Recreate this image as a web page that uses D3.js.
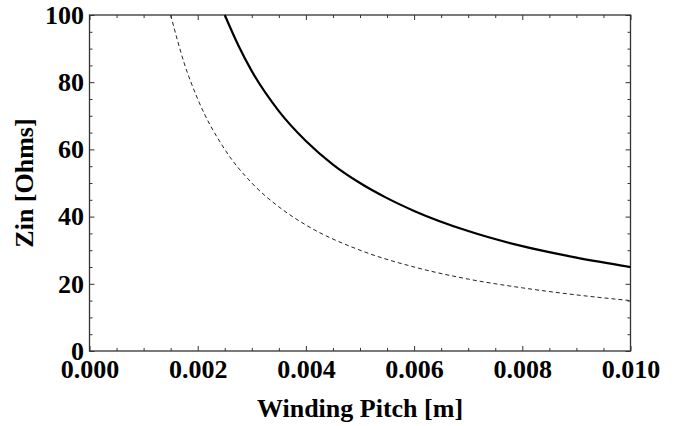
<!DOCTYPE html>
<html>
<head>
<meta charset="utf-8">
<script src="https://cdn.jsdelivr.net/npm/d3@7"></script>
<style>
  html, body { margin: 0; padding: 0; background: #fff; }
  text { font-family: "Liberation Serif", "Times New Roman", serif; font-weight: bold; }
</style>
</head>
<body>
<div id="chart"></div>
<script>
// Zin vs winding pitch, two curves
const pitchSolid = [0.0025, 0.00275, 0.003, 0.0035, 0.004, 0.0045, 0.005, 0.0055, 0.006, 0.007, 0.008, 0.009, 0.010];
const zinSolid   = [100, 91, 83.3, 71.4, 62.5, 55.5, 50, 45.5, 41.7, 35.7, 31.2, 27.8, 25];
const pitchDash  = [0.0015, 0.00175, 0.002, 0.0025, 0.003, 0.0035, 0.004, 0.005, 0.006, 0.007, 0.008, 0.009, 0.010];
const zinDash    = [100, 85.7, 75, 60, 50, 42.9, 37.5, 30, 25, 21.4, 18.8, 16.7, 15];

const xMajor = [0, 0.002, 0.004, 0.006, 0.008, 0.010];
const yMajor = [0, 20, 40, 60, 80, 100];

const width = 689, height = 426;
const margin = { top: 15, right: 58.5, bottom: 75, left: 89.5 };
const iw = width - margin.left - margin.right;
const ih = height - margin.top - margin.bottom;

const svg = d3.select('#chart').append('svg')
  .attr('width', width).attr('height', height);
const g = svg.append('g').attr('transform', `translate(${margin.left},${margin.top})`);

const x = d3.scaleLinear().domain([0, 0.010]).range([0, iw]);
const y = d3.scaleLinear().domain([0, 100]).range([ih, 0]);

const xMinor = d3.range(0, 0.0101, 0.0005).filter(v => !xMajor.some(m => Math.abs(m - v) < 1e-9));
const yMinor = d3.range(0, 101, 5).filter(v => v % 20 !== 0);

function styleAxis(sel) {
  sel.select('.domain').remove();
  sel.selectAll('line').attr('stroke', '#333').attr('stroke-width', 1);
  sel.selectAll('text').style('font-size', '26px').attr('fill', '#000');
}

// bottom
g.append('g').attr('transform', `translate(0,${ih})`)
  .call(d3.axisBottom(x).tickValues(xMajor).tickSize(-5).tickPadding(8.5).tickFormat(d3.format('.3f')))
  .call(styleAxis);
g.append('g').attr('transform', `translate(0,${ih})`)
  .call(d3.axisBottom(x).tickValues(xMinor).tickSize(-3).tickFormat(''))
  .call(styleAxis);
// top
g.append('g')
  .call(d3.axisTop(x).tickValues(xMajor).tickSize(-5).tickFormat(''))
  .call(styleAxis);
g.append('g')
  .call(d3.axisTop(x).tickValues(xMinor).tickSize(-3).tickFormat(''))
  .call(styleAxis);
// left
g.append('g')
  .call(d3.axisLeft(y).tickValues(yMajor).tickSize(-5).tickPadding(5.5).tickFormat(d3.format('d')))
  .call(styleAxis);
g.append('g')
  .call(d3.axisLeft(y).tickValues(yMinor).tickSize(-3).tickFormat(''))
  .call(styleAxis);
// right
g.append('g').attr('transform', `translate(${iw},0)`)
  .call(d3.axisRight(y).tickValues(yMajor).tickSize(-5).tickFormat(''))
  .call(styleAxis);
g.append('g').attr('transform', `translate(${iw},0)`)
  .call(d3.axisRight(y).tickValues(yMinor).tickSize(-3).tickFormat(''))
  .call(styleAxis);

// frame
g.append('rect')
  .attr('width', iw).attr('height', ih)
  .attr('fill', 'none').attr('stroke', '#333').attr('stroke-width', 1.3);

const line = d3.line()
  .x(d => x(d[0]))
  .y(d => y(d[1]))
  .curve(d3.curveMonotoneX);

g.append('path')
  .datum(d3.zip(pitchDash, zinDash))
  .attr('d', line)
  .attr('fill', 'none')
  .attr('stroke', '#222')
  .attr('stroke-width', 1)
  .attr('stroke-dasharray', '4,3');

g.append('path')
  .datum(d3.zip(pitchSolid, zinSolid))
  .attr('d', line)
  .attr('fill', 'none')
  .attr('stroke', '#000')
  .attr('stroke-width', 2.2);

// axis titles
svg.append('text')
  .attr('x', margin.left + iw / 2)
  .attr('y', 417)
  .attr('text-anchor', 'middle')
  .style('font-size', '26px')
  .text('Winding Pitch [m]');

svg.append('text')
  .attr('transform', `translate(33,${margin.top + ih / 2}) rotate(-90)`)
  .attr('text-anchor', 'middle')
  .style('font-size', '26px')
  .text('Zin [Ohms]');
</script>
</body>
</html>
